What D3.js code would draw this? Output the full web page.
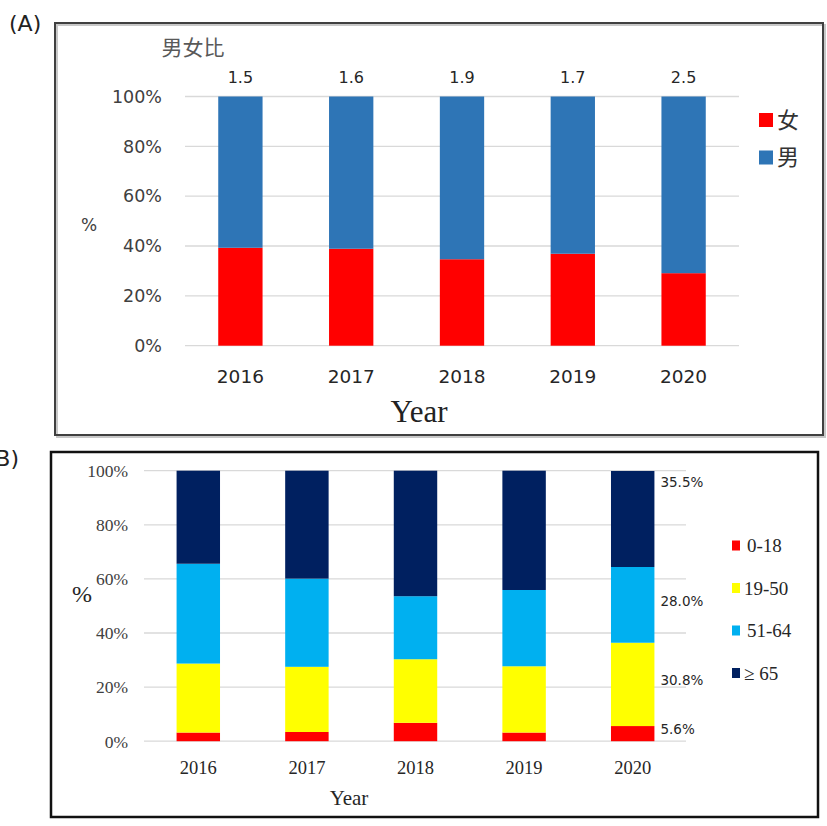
<!DOCTYPE html>
<html>
<head>
<meta charset="utf-8">
<script src="https://cdn.jsdelivr.net/npm/d3@7"></script>
<style>
  body { margin: 0; background: #fff; }
  svg { display: block; }
  .sans { font-family: "DejaVu Sans", sans-serif; }
  .serif { font-family: "Liberation Serif", "Times New Roman", serif; }
  .cjk { font-family: "Noto Sans CJK TC", "Noto Sans CJK SC", sans-serif; }
</style>
</head>
<body>
<div id="chart"></div>
<script>
// panel A: sex share per year
const years = ['2016', '2017', '2018', '2019', '2020'];
const femalePct = [39.3, 38.9, 34.7, 36.9, 29.1];
const malePct = [60.7, 61.1, 65.3, 63.1, 70.9];
const sexRatio = ['1.5', '1.6', '1.9', '1.7', '2.5'];
const sexKeys = ['女', '男'];
const yTicks = [0, 20, 40, 60, 80, 100];

// panel B: age groups per year
const ageKeys = ['0-18', '19-50', '51-64', '≥ 65'];
const age0_18 = [3.2, 3.4, 6.8, 3.2, 5.6];
const age19_50 = [25.5, 24.1, 23.5, 24.5, 30.8];
const age51_64 = [36.9, 32.6, 23.3, 28.2, 28.0];
const age65 = [34.4, 39.9, 46.4, 44.1, 35.5];
const lastYearLabels = ['5.6%', '30.8%', '28.0%', '35.5%'];

const svg = d3.select('#chart').append('svg')
  .attr('width', 827).attr('height', 826);

const gridColor = '#d9d9d9';

// ---------- panel A ----------
const sexColors = d3.scaleOrdinal().domain(sexKeys).range(['#ff0000', '#2e75b6']);
const sexRows = years.map((y, i) => ({ year: y, '女': femalePct[i], '男': malePct[i] }));

const xA = d3.scaleBand().domain(years).range([185, 739]).paddingInner(0.6).paddingOuter(0.3);
const yA = d3.scaleLinear().domain([0, 100]).range([345.7, 96.5]);

// frame with a faint shadow
svg.append('rect').attr('x', 57).attr('y', 25).attr('width', 768).attr('height', 412)
  .attr('fill', 'none').attr('stroke', '#c8c8c8').attr('stroke-width', 2);
svg.append('rect').attr('x', 55).attr('y', 23).attr('width', 768).attr('height', 412)
  .attr('fill', 'none').attr('stroke', '#404040').attr('stroke-width', 2);

svg.append('text').attr('class', 'sans').attr('x', 9).attr('y', 23).attr('dy', '0.35em')
  .attr('font-size', 22).attr('fill', '#222').text('(A)');

const gA = svg.append('g');
gA.append('g').selectAll('line').data(yTicks).join('line')
  .attr('x1', 185).attr('x2', 739)
  .attr('y1', d => yA(d)).attr('y2', d => yA(d))
  .attr('stroke', gridColor).attr('stroke-width', 1.3);

gA.append('g').selectAll('text').data(yTicks).join('text')
  .attr('class', 'sans').attr('x', 162).attr('y', d => yA(d)).attr('dy', '0.36em')
  .attr('text-anchor', 'end').attr('font-size', 17.5).attr('fill', '#404040')
  .text(d => d + '%');

const stackA = d3.stack().keys(sexKeys)(sexRows);
gA.append('g').selectAll('g').data(stackA).join('g')
  .attr('fill', d => sexColors(d.key))
  .selectAll('rect').data(d => d).join('rect')
  .attr('x', d => xA(d.data.year)).attr('width', xA.bandwidth())
  .attr('y', d => yA(d[1])).attr('height', d => yA(d[0]) - yA(d[1]));

gA.append('g').selectAll('text').data(years).join('text')
  .attr('class', 'sans').attr('x', d => xA(d) + xA.bandwidth() / 2).attr('y', 376).attr('dy', '0.36em')
  .attr('text-anchor', 'middle').attr('font-size', 18.5).attr('fill', '#262626')
  .text(d => d);

gA.append('g').selectAll('text').data(sexRatio).join('text')
  .attr('class', 'sans').attr('x', (d, i) => xA(years[i]) + xA.bandwidth() / 2).attr('y', 77).attr('dy', '0.36em')
  .attr('text-anchor', 'middle').attr('font-size', 16).attr('fill', '#262626')
  .text(d => d);

gA.append('text').attr('class', 'cjk').attr('x', 193).attr('y', 47).attr('dy', '0.36em')
  .attr('text-anchor', 'middle').attr('font-size', 21).attr('fill', '#595959').text('男女比');

gA.append('text').attr('class', 'sans').attr('x', 89).attr('y', 225).attr('dy', '0.36em')
  .attr('text-anchor', 'middle').attr('font-size', 17).attr('fill', '#404040').text('%');

gA.append('text').attr('class', 'serif').attr('x', 419).attr('y', 411).attr('dy', '0.35em')
  .attr('text-anchor', 'middle').attr('font-size', 31).attr('fill', '#222').text('Year');

const legA = gA.append('g').selectAll('g').data(sexKeys).join('g')
  .attr('transform', (d, i) => `translate(759, ${113 + i * 37.5})`);
legA.append('rect').attr('width', 14).attr('height', 14).attr('fill', d => sexColors(d));
legA.append('text').attr('class', 'cjk').attr('x', 18).attr('y', 7).attr('dy', '0.36em')
  .attr('font-size', 22).attr('fill', '#333').text(d => d);

// ---------- panel B ----------
const ageColors = d3.scaleOrdinal().domain(ageKeys).range(['#ff0000', '#ffff00', '#00b0f0', '#002060']);
const ageRows = years.map((y, i) => ({
  year: y, '0-18': age0_18[i], '19-50': age19_50[i], '51-64': age51_64[i], '≥ 65': age65[i]
}));

const xB = d3.scaleBand().domain(years).range([144, 687]).paddingInner(0.6).paddingOuter(0.3);
const yB = d3.scaleLinear().domain([0, 100]).range([741.2, 470.7]);

svg.append('rect').attr('x', 51).attr('y', 452).attr('width', 767).attr('height', 365)
  .attr('fill', 'none').attr('stroke', '#111').attr('stroke-width', 2.5);

svg.append('text').attr('class', 'sans').attr('x', 19).attr('y', 458).attr('dy', '0.35em')
  .attr('text-anchor', 'end').attr('font-size', 22).attr('fill', '#222').text('(B)');

const gB = svg.append('g');
gB.append('g').selectAll('line').data(yTicks).join('line')
  .attr('x1', 144).attr('x2', 686)
  .attr('y1', d => yB(d)).attr('y2', d => yB(d))
  .attr('stroke', gridColor).attr('stroke-width', 1.3);

gB.append('g').selectAll('text').data(yTicks).join('text')
  .attr('class', 'serif').attr('x', 128).attr('y', d => yB(d)).attr('dy', '0.36em')
  .attr('text-anchor', 'end').attr('font-size', 17.5).attr('fill', '#404040')
  .text(d => d + '%');

const stackB = d3.stack().keys(ageKeys)(ageRows);
gB.append('g').selectAll('g').data(stackB).join('g')
  .attr('fill', d => ageColors(d.key))
  .selectAll('rect').data(d => d).join('rect')
  .attr('x', d => xB(d.data.year)).attr('width', xB.bandwidth())
  .attr('y', d => yB(d[1])).attr('height', d => yB(d[0]) - yB(d[1]));

// value labels beside the 2020 bar
const last = years.length - 1;
gB.append('g').selectAll('text').data(stackB).join('text')
  .attr('class', 'sans')
  .attr('x', xB(years[last]) + xB.bandwidth() + 6)
  .attr('y', (s, i) => i === stackB.length - 1
    ? yB(s[last][1]) + 11
    : (yB(s[last][0]) + yB(s[last][1])) / 2 - 4)
  .attr('dy', '0.36em').attr('font-size', 13.5).attr('fill', '#262626')
  .text((s, i) => lastYearLabels[i]);

gB.append('g').selectAll('text').data(years).join('text')
  .attr('class', 'serif').attr('x', d => xB(d) + xB.bandwidth() / 2).attr('y', 767).attr('dy', '0.36em')
  .attr('text-anchor', 'middle').attr('font-size', 18.5).attr('fill', '#262626')
  .text(d => d);

gB.append('text').attr('class', 'serif').attr('x', 82).attr('y', 593).attr('dy', '0.36em')
  .attr('text-anchor', 'middle').attr('font-size', 24).attr('fill', '#262626').text('%');

gB.append('text').attr('class', 'serif').attr('x', 349).attr('y', 798).attr('dy', '0.35em')
  .attr('text-anchor', 'middle').attr('font-size', 21).attr('fill', '#262626').text('Year');

const legB = gB.append('g').selectAll('g').data(ageKeys).join('g')
  .attr('transform', (d, i) => `translate(732, ${545.5 + i * 42.5})`);
legB.append('rect').attr('y', -5).attr('width', 8).attr('height', 10).attr('fill', d => ageColors(d));
legB.append('text').attr('class', 'serif').attr('x', (d, i) => i === 0 || i === 2 ? 15 : 12)
  .attr('dy', '0.36em').attr('font-size', 19).attr('fill', '#262626').text(d => d);
</script>
</body>
</html>
